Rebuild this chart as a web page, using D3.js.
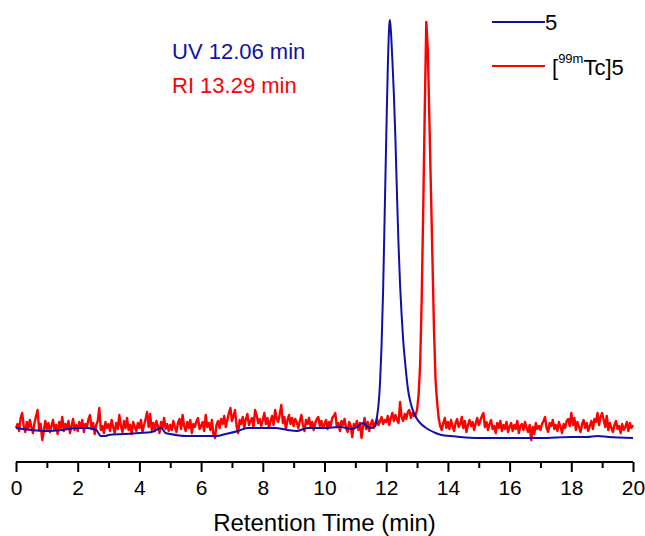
<!DOCTYPE html>
<html lang="en">
<head>
    <meta charset="UTF-8">
    <title>HPLC chromatogram</title>
    <style>
        body {
            margin: 0;
            padding: 0;
            background-color: #fff;
        }
        text {
            font-family: Arial, 'Liberation Sans', sans-serif;
        }
        .axis path, .axis line {
            stroke: #000;
            stroke-width: 2px;
        }
        .trace {
            fill: none;
            stroke-linejoin: round;
        }
    </style>
</head>
<body>
    <div id="chart"></div>

    <script src="https://d3js.org/d3.v7.min.js"></script>
    <script>
        // x axis ticks (min)
        const majorTicks = [0, 2, 4, 6, 8, 10, 12, 14, 16, 18, 20];
        const minorTicks = [1, 3, 5, 7, 9, 11, 13, 15, 17, 19];

        // UV trace of compound 5 (time in min, detector signal)
        const uvTime = [0, 0.5, 1.0, 1.5, 2.0, 2.3, 2.6, 2.75, 2.9, 3.0, 3.5, 4.0, 4.4, 4.6, 4.7, 4.85,
            5.0, 5.5, 6.0, 6.5, 6.8, 7.2, 7.5, 8.0, 8.4, 8.8, 9.1, 9.45, 10.0, 10.5, 10.9, 11.1, 11.25,
            11.4, 11.5, 11.65, 11.7, 11.75, 11.8, 11.85, 11.9, 11.95, 12.0, 12.05, 12.1, 12.12, 12.15,
            12.2, 12.25, 12.3, 12.35, 12.4, 12.45, 12.5, 12.55, 12.6, 12.65, 12.7, 12.8, 12.9, 13.0,
            13.1, 13.25, 13.4, 13.6, 13.8, 14.1, 14.4, 15.0, 16.0, 17.0, 18.0, 18.5, 18.85, 19.2, 20.0];
        const uvSignal = [12, 10, 9, 10, 12, 12, 10, 4, 4, 5, 6, 7, 8, 11, 12, 7,
            6, 4, 4, 4, 6, 9, 12, 12, 12, 10, 9, 12, 12, 13, 11, 14, 17,
            13, 12, 14, 23, 35, 57, 95, 150, 225, 300, 370, 415, 420, 410,
            380, 345, 300, 245, 195, 155, 125, 100, 82, 66, 52, 36, 27, 21,
            17, 13, 10, 7, 5, 4, 3, 2, 2, 2, 3, 3, 4, 3, 2];

        // radio trace of [99mTc]5, sampled every 0.05 min from 0 to 20 min
        const riStart = 0;
        const riStep = 0.05;
        const riSignal = [
            12, 16, 9, 22, 27, 14, 8, 18, 11, 20, 13, 7, 17, 24, 30, 10, 16, 0, 9, 19,
            11, 17, 8, 14, 20, 10, 15, 6, 18, 12, 23, 9, 16, 11, 19, 7, 14, 21, 10, 15,
            9, 18, 12, 20, 8, 16, 13, 21, 25, 11, 17, 6, 15, 19, 32, 10, 14, 7, 18, 12,
            16, 9, 20, 13, 7, 17, 11, 25, 14, 8, 19, 12, 22, 10, 15, 6, 18, 13, 9, 17,
            12, 20, 8, 15, 21, 28, 13, 26, 10, 17, 9, 19, 14, 7, 18, 12, 22, 11, 16, 9,
            15, 10, 19, 13, 8, 17, 21, 11, 25, 14, 9, 18, 12, 20, 7, 16, 13, 19, 22, 11,
            14, 18, 9, 25, 13, 17, 10, 20, 6, 2, 15, 19, 12, 21, 16, 24, 13, 20, 27, 32,
            19, 24, 30, 14, 7, 20, 16, 23, 12, 21, 26, 15, 19, 22, 13, 30, 25, 17, 21, 14,
            20, 27, 16, 22, 12, 19, 24, 15, 30, 21, 18, 26, 35, 17, 23, 11, 20, 25, 16, 22,
            14, 21, 18, 12, 19, 25, 15, 9, 20, 16, 22, 13, 18, 10, 17, 21, 23, 14, 19, 12,
            16, 20, 11, 18, 14, 22, 24, 27, 13, 17, 9, 19, 15, 21, 12, 8, 18, 14, 3, 16,
            13, 19, 10, 17, 2, 14, 22, 11, 18, 9, 16, 20, 12, 17, 21, 15, 19, 23, 16, 20,
            18, 24, 15, 22, 27, 19, 25, 20, 17, 38, 23, 19, 26, 21, 28, 30, 22, 27, 24, 25,
            30, 45, 75, 140, 230, 330, 418, 390, 320, 250, 180, 110, 60, 38, 22, 14, 10, 17, 22, 12,
            18, 11, 20, 14, 9, 17, 21, 13, 16, 23, 12, 19, 8, 15, 20, 14, 18, 10, 17, 22,
            15, 19, 24, 27, 13, 18, 10, 16, 20, 11, 14, 7, 17, 12, 19, 9, 15, 11, 18, 8,
            13, 17, 9, 15, 11, 19, 7, 14, 16, 10, 18, 12, 8, 15, 0, 13, 6, 17, 11, 14,
            10, 16, 19, 23, 12, 8, 17, 14, 20, 11, 15, 9, 18, 13, 7, 16, 12, 19, 21, 14,
            27, 15, 22, 10, 18, 13, 8, 16, 20, 12, 17, 9, 14, 19, 11, 21, 18, 27, 15, 23,
            27, 20, 13, 24, 10, 17, 12, 8, 15, 19, 11, 14, 7, 16, 10, 13, 18, 9, 17, 12, 15
        ];

        const uvColor = '#1010a8';
        const riColor = '#ff0000';

        const width = 645;
        const height = 536;

        const svg = d3.select('#chart')
            .append('svg')
            .attr('width', width)
            .attr('height', height);

        const x = d3.scaleLinear().domain([0, 20]).range([16, 633]);
        const y = d3.scaleLinear().domain([0, 420]).range([440, 20]);

        const uvData = uvTime.map((t, i) => ({ t: t, v: uvSignal[i] }));
        const riData = riSignal.map((v, i) => ({ t: riStart + i * riStep, v: v }));

        // red first so the blue line sits on top like in the original
        svg.append('path')
            .datum(riData)
            .attr('class', 'trace')
            .attr('stroke', riColor)
            .attr('stroke-width', 2.4)
            .attr('d', d3.line().x(d => x(d.t)).y(d => y(d.v)));

        svg.append('path')
            .datum(uvData)
            .attr('class', 'trace')
            .attr('stroke', uvColor)
            .attr('stroke-width', 2)
            .attr('d', d3.line().curve(d3.curveMonotoneX).x(d => x(d.t)).y(d => y(d.v)));

        // x axis: long major ticks with labels, short minor ticks
        const axisY = 462;
        svg.append('g')
            .attr('class', 'axis')
            .attr('transform', `translate(0, ${axisY})`)
            .call(d3.axisBottom(x).tickValues(minorTicks).tickSize(6).tickFormat('').tickSizeOuter(0))
            .select('.domain').remove();

        const majorAxis = svg.append('g')
            .attr('class', 'axis')
            .attr('transform', `translate(0, ${axisY})`)
            .call(d3.axisBottom(x).tickValues(majorTicks).tickSize(10).tickSizeOuter(0).tickPadding(8));
        majorAxis.selectAll('text')
            .attr('fill', '#000')
            .style('font-size', '21px');
        majorAxis.select('.domain').attr('d', `M${x(0)},0H${x(20)}`);

        svg.append('text')
            .attr('x', (x(0) + x(20)) / 2)
            .attr('y', 531)
            .attr('text-anchor', 'middle')
            .style('font-size', '24px')
            .text('Retention Time (min)');

        // peak annotations
        svg.append('text')
            .attr('x', 172)
            .attr('y', 59)
            .attr('fill', uvColor)
            .style('font-size', '22px')
            .text('UV 12.06 min');

        svg.append('text')
            .attr('x', 172)
            .attr('y', 93)
            .attr('fill', riColor)
            .style('font-size', '22px')
            .text('RI 13.29 min');

        // legend
        const legend = svg.append('g');
        legend.append('line')
            .attr('x1', 492).attr('x2', 545)
            .attr('y1', 22).attr('y2', 22)
            .attr('stroke', uvColor)
            .attr('stroke-width', 2);
        legend.append('text')
            .attr('x', 545)
            .attr('y', 30)
            .style('font-size', '22px')
            .text('5');

        legend.append('line')
            .attr('x1', 492).attr('x2', 545)
            .attr('y1', 66).attr('y2', 66)
            .attr('stroke', riColor)
            .attr('stroke-width', 2);
        const riLabel = legend.append('text')
            .attr('x', 552)
            .attr('y', 75)
            .style('font-size', '22px');
        riLabel.append('tspan').text('[');
        riLabel.append('tspan').attr('dy', -12).style('font-size', '13px').text('99m');
        riLabel.append('tspan').attr('dy', 12).text('Tc]5');
    </script>
</body>
</html>
